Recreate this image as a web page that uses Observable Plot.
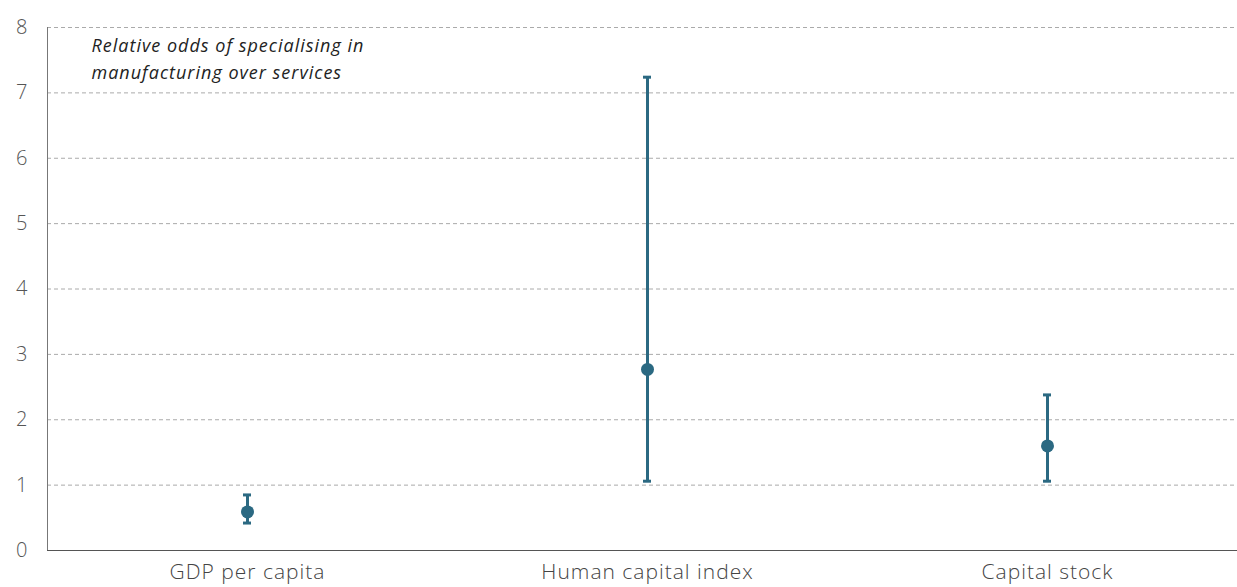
<!DOCTYPE html>
<html>
<head>
<meta charset="utf-8">
<script src="https://cdn.jsdelivr.net/npm/d3@7"></script>
<script src="https://cdn.jsdelivr.net/npm/@observablehq/plot@0.6"></script>
<style>
  html, body { margin: 0; padding: 0; background: #fff; }
  #chart svg { display: block; }
  #chart svg g[aria-label="x-axis tick label"] text { letter-spacing: 1px; }
  #chart svg g[aria-label="text"] text { letter-spacing: 1px; }
</style>
</head>
<body>
<div id="chart"></div>
<script>
const categories = ["GDP per capita", "Human capital index", "Capital stock"];
const estimates = [0.59, 2.77, 1.60];
const lower = [0.42, 1.06, 1.06];
const upper = [0.85, 7.24, 2.38];
const yTicks = [0, 1, 2, 3, 4, 5, 6, 7, 8];
const annotation = ["Relative odds of specialising in", "manufacturing over services"];

const data = categories.map((c, i) => ({cat: c, est: estimates[i], lo: lower[i], hi: upper[i]}));
const color = "#2b6982";

const plot = Plot.plot({
  width: 1237,
  height: 587,
  marginLeft: 47,
  marginRight: -10,
  marginTop: 27,
  marginBottom: 37,
  style: {fontFamily: "'Open Sans', sans-serif", fontWeight: 300, background: "#fff"},
  x: {domain: categories, padding: 0, label: null},
  y: {domain: [0, 8], ticks: yTicks, label: null},
  marks: [
    Plot.gridY(yTicks.filter(d => d > 0), {stroke: "#aaa", strokeOpacity: 1, strokeDasharray: "4,3", strokeWidth: 1}),
    Plot.ruleY([0], {stroke: "#555", strokeWidth: 1}),
    Plot.ruleX([0], {x: () => categories[0], dx: -200, y1: 0, y2: 8, stroke: "#777", strokeWidth: 1}),
    Plot.axisY(yTicks, {tickSize: 0, tickPadding: 20, tickFormat: "d", fontSize: 20, fill: "#555", fontWeight: 300}),
    Plot.axisX({tickSize: 0, tickPadding: 14, fontSize: 21, fill: "#444", fontWeight: 300}),
    Plot.ruleX(data, {x: "cat", y1: "lo", y2: "hi", stroke: color, strokeWidth: 3}),
    Plot.tickY(data, {x: "cat", y: "lo", stroke: color, strokeWidth: 3, insetLeft: 196, insetRight: 196}),
    Plot.tickY(data, {x: "cat", y: "hi", stroke: color, strokeWidth: 3, insetLeft: 196, insetRight: 196}),
    Plot.dot(data, {x: "cat", y: "est", r: 6.5, fill: color, stroke: null}),
    Plot.text([annotation.join("\n")], {
      frameAnchor: "top-left", dx: 44, dy: 5, lineHeight: 1.5,
      fontSize: 18, fontStyle: "italic", fill: "#222", fontWeight: 400, textAnchor: "start"
    })
  ]
});
document.getElementById("chart").appendChild(plot);
</script>
</body>
</html>
